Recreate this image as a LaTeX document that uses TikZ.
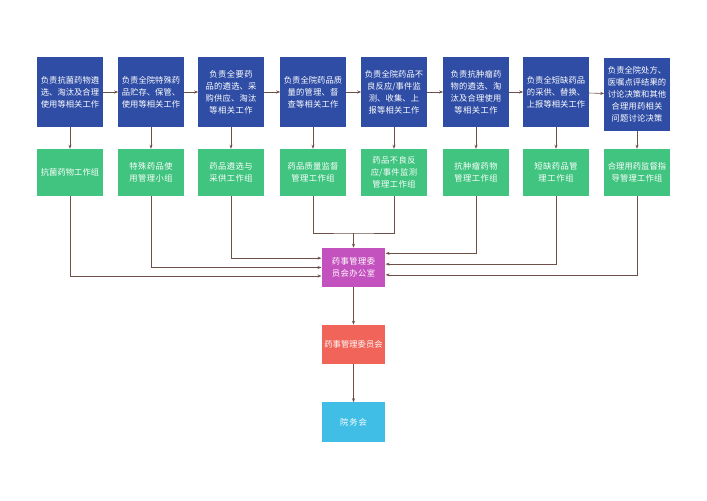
\documentclass[tikz,border=0pt]{standalone}
\usepackage{fontspec}
\setmainfont{Noto Sans CJK SC}
\XeTeXlinebreaklocale "zh"
\XeTeXlinebreakskip=0pt plus 1pt
\usetikzlibrary{arrows.meta, positioning, calc}
\definecolor{dutyBlue}{RGB}{47, 77, 165}
\definecolor{groupGreen}{RGB}{64, 196, 128}
\definecolor{officeMagenta}{RGB}{196, 82, 190}
\definecolor{boardRed}{RGB}{240, 100, 90}
\definecolor{hospCyan}{RGB}{64, 190, 230}
\definecolor{lineBrown}{RGB}{110, 80, 72}

\begin{document}
\begin{tikzpicture}[
        x=0.0353cm, y=-0.0353cm,
        duty/.style={rectangle, fill=dutyBlue, text=white, minimum width=2.3cm, minimum height=2.47cm, text width=2.12cm, align=center, inner sep=1pt, font=\fontsize{8.3}{12}\selectfont},
        grp/.style={rectangle, fill=groupGreen, text=white, minimum width=2.3cm, minimum height=1.66cm, text width=2.12cm, align=center, inner sep=1pt, font=\fontsize{8.3}{12}\selectfont},
        unit/.style={rectangle, text=white, minimum width=2.25cm, minimum height=1.38cm, text width=2.15cm, align=center, inner sep=1pt, font=\fontsize{8.3}{12}\selectfont},
        arrow/.style={-{Stealth[length=4pt,width=3pt]}, semithick, lineBrown}
    ]
        \useasboundingbox (0,0) rectangle (707,500);
        % Duties
        \node[duty] (d1) at (70,92) {负责抗菌药物遴选、淘汰及合理使用等相关工作};
        \node[duty] (d2) at (151,92) {负责全院特殊药品贮存、保管、使用等相关工作};
        \node[duty] (d3) at (231,92) {负责全要药品的遴选、采购供应、淘汰等相关工作};
        \node[duty] (d4) at (313,92) {负责全院药品质量的管理、督查等相关工作};
        \node[duty] (d5) at (394,92) {负责全院药品不良反应/事件监测、收集、上报等相关工作};
        \node[duty] (d6) at (476,92) {负责抗肿瘤药物的遴选、淘汰及合理使用等相关工作};
        \node[duty] (d7) at (556,92) {负责全短缺药品的采供、替换、上报等相关工作};
        \node[duty, minimum height=2.58cm] (d8) at (637,94.5) {负责全院处方、医嘱点评结果的讨论决策和其他合理用药相关问题讨论决策};

        % Groups
        \node[grp] (g1) at (70,172.5) {抗菌药物工作组};
        \node[grp] (g2) at (151,172.5) {特殊药品使用管理小组};
        \node[grp] (g3) at (231,172.5) {药品遴选与采供工作组};
        \node[grp] (g4) at (313,172.5) {药品质量监督管理工作组};
        \node[grp] (g5) at (394,172.5) {药品不良反应/事件监测管理工作组};
        \node[grp] (g6) at (476,172.5) {抗肿瘤药物管理工作组};
        \node[grp] (g7) at (556,172.5) {短缺药品管理工作组};
        \node[grp] (g8) at (637,172.5) {合理用药监督指导管理工作组};

        % Office and above
        \node[unit, fill=officeMagenta] (office) at (353.5,267.5) {药事管理委员会办公室};
        \node[unit, fill=boardRed] (board) at (353.5,344.5) {药事管理委员会};
        \node[unit, fill=hospCyan] (hosp) at (353.5,422) {院务会};
        \coordinate (join) at (353.5,233);

        \draw[arrow] (d1) -- (d2);
        \draw[arrow] (d2) -- (d3);
        \draw[arrow] (d3) -- (d4);
        \draw[arrow] (d4) -- (d5);
        \draw[arrow] (d5) -- (d6);
        \draw[arrow] (d6) -- (d7);
        \draw[arrow] (d7) -- (d8);
        \draw[arrow] (d1) -- (g1);
        \draw[arrow] (d2) -- (g2);
        \draw[arrow] (d3) -- (g3);
        \draw[arrow] (d4) -- (g4);
        \draw[arrow] (d5) -- (g5);
        \draw[arrow] (d6) -- (g6);
        \draw[arrow] (d7) -- (g7);
        \draw[arrow] (d8) -- (g8);

        \draw[arrow] (g1.south) |- ([yshift=-0.3cm]office.west);
        \draw[arrow] (g2.south) |- (office.west);
        \draw[arrow] (g3.south) |- ([yshift=0.33cm]office.west);
        \draw[semithick, lineBrown] (g4.south) |- (join) -| (g5.south);
        \draw[arrow] (join) -- (office);
        \draw[arrow] (g6.south) |- ([yshift=0.5cm]office.east);
        \draw[arrow] (g7.south) |- ([yshift=0.12cm]office.east);
        \draw[arrow] (g8.south) |- ([yshift=-0.26cm]office.east);
        \draw[arrow] (office) -- (board);
        \draw[arrow] (board) -- (hosp);
    \end{tikzpicture}
\end{document}
